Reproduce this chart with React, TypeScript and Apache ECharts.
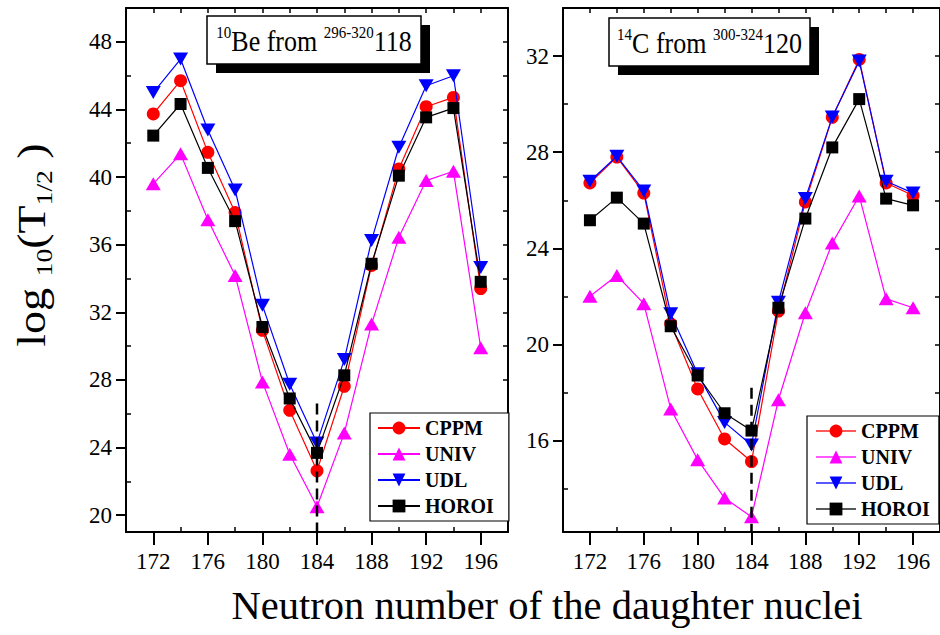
import React, { useEffect, useRef } from "react";
import * as echarts from "echarts";

// Neutron number of the daughter nucleus (x axis, both panels)
const neutronNumbers = [172, 174, 176, 178, 180, 182, 184, 186, 188, 190, 192, 194, 196];

// log10(T1/2) for 10Be emission from 296-320 118
const beCPPM = [43.73, 45.7, 41.46, 37.9, 30.93, 26.2, 22.62, 27.62, 34.77, 40.48, 44.16, 44.71, 33.4];
const beUNIV = [39.6, 41.37, 37.47, 34.18, 27.88, 23.6, 20.49, 24.85, 31.3, 36.44, 39.79, 40.34, 29.9];
const beUDL = [45.0, 46.98, 42.78, 39.24, 32.41, 27.74, 24.27, 29.2, 36.25, 41.76, 45.4, 45.99, 34.65];
const beHOROI = [42.45, 44.32, 40.54, 37.39, 31.13, 26.9, 23.68, 28.27, 34.87, 40.08, 43.53, 44.08, 33.8];

// log10(T1/2) for 14C emission from 300-324 120
const cCPPM = [26.72, 27.8, 26.3, 20.86, 18.15, 16.07, 15.13, 21.39, 25.93, 29.45, 31.86, 26.72, 26.2];
const cUNIV = [22.01, 22.87, 21.7, 17.32, 15.21, 13.61, 12.83, 17.7, 21.32, 24.22, 26.18, 21.9, 21.53];
const cUDL = [26.79, 27.83, 26.39, 21.28, 18.78, 16.76, 15.82, 21.76, 26.07, 29.47, 31.79, 26.79, 26.3];
const cHOROI = [25.17, 26.11, 25.03, 20.76, 18.71, 17.14, 16.42, 21.53, 25.24, 28.2, 30.21, 26.07, 25.79];

// N = 184 shell closure marker (top and bottom ends of the dashed line)
const beShellLine = [26.6, 19];
const cShellLine = [18.2, 12.2];

// Tick positions
const xMajor = [172, 176, 180, 184, 188, 192, 196];
const xMinor = [174, 178, 182, 186, 190, 194];
const xAll = [172, 174, 176, 178, 180, 182, 184, 186, 188, 190, 192, 194, 196];
const beYMajor = [20, 24, 28, 32, 36, 40, 44, 48];
const beYMinor = [22, 26, 30, 34, 38, 42, 46];
const beYAll = [20, 22, 24, 26, 28, 30, 32, 34, 36, 38, 40, 42, 44, 46, 48];
const cYMajor = [16, 20, 24, 28, 32];
const cYMinor = [14, 18, 22, 26, 30];
const cYAll = [14, 16, 18, 20, 22, 24, 26, 28, 30, 32];

const methodNames = ["CPPM", "UNIV", "UDL", "HOROI"];

const FONT = "Liberation Serif";
const BLACK = "#000";

const seriesStyles = [
  { color: "#ff0000", symbol: "circle", symbolSize: 13, symbolRotate: 0 },
  { color: "#ff00ff", symbol: "triangle", symbolSize: [15, 13], symbolRotate: 0 },
  { color: "#0000ff", symbol: "triangle", symbolSize: [15, 13], symbolRotate: 180 },
  { color: "#000000", symbol: "rect", symbolSize: 12, symbolRotate: 0 },
];

const pairs = (ys: number[]) => neutronNumbers.map((n, i) => [n, ys[i]]);

function xAxesFor(grid: number) {
  const base = { type: "value", gridIndex: grid, min: 170, max: 198, splitLine: { show: false } };
  return [
    {
      ...base,
      position: "bottom",
      axisLine: { onZero: false, lineStyle: { color: BLACK, width: 2 } },
      axisTick: { inside: false, length: 13, customValues: xMajor, lineStyle: { color: BLACK, width: 2 } },
      axisLabel: { customValues: xMajor, fontFamily: FONT, fontSize: 23, color: BLACK, margin: 18 },
    },
    {
      ...base,
      position: "bottom",
      axisLine: { show: false, onZero: false },
      axisTick: { inside: true, length: 5, customValues: xMinor, lineStyle: { color: BLACK, width: 1.5 } },
      axisLabel: { show: false },
    },
    {
      ...base,
      position: "top",
      axisLine: { onZero: false, lineStyle: { color: BLACK, width: 2 } },
      axisTick: { inside: true, length: 5, customValues: xAll, lineStyle: { color: BLACK, width: 1.5 } },
      axisLabel: { show: false },
    },
  ];
}

function yAxesFor(grid: number, min: number, max: number, major: number[], minor: number[], all: number[]) {
  const base = { type: "value", gridIndex: grid, min, max, splitLine: { show: false } };
  return [
    {
      ...base,
      position: "left",
      axisLine: { onZero: false, lineStyle: { color: BLACK, width: 2 } },
      axisTick: { inside: false, length: 10, customValues: major, lineStyle: { color: BLACK, width: 2 } },
      axisLabel: { customValues: major, fontFamily: FONT, fontSize: 23, color: BLACK, margin: 14 },
    },
    {
      ...base,
      position: "left",
      axisLine: { show: false, onZero: false },
      axisTick: { inside: true, length: 5, customValues: minor, lineStyle: { color: BLACK, width: 1.5 } },
      axisLabel: { show: false },
    },
    {
      ...base,
      position: "right",
      axisLine: { onZero: false, lineStyle: { color: BLACK, width: 2 } },
      axisTick: { inside: true, length: 5, customValues: all, lineStyle: { color: BLACK, width: 1.5 } },
      axisLabel: { show: false },
    },
  ];
}

function methodSeries(axisBase: number, values: number[][]) {
  return values.map((ys, k) => ({
    type: "line",
    name: methodNames[k],
    xAxisIndex: axisBase,
    yAxisIndex: axisBase,
    data: pairs(ys),
    symbol: seriesStyles[k].symbol,
    symbolSize: seriesStyles[k].symbolSize,
    symbolRotate: seriesStyles[k].symbolRotate,
    showAllSymbol: true,
    lineStyle: { color: seriesStyles[k].color, width: 1.2 },
    itemStyle: { color: seriesStyles[k].color },
    z: 2 + k,
  }));
}

function shellSeries(axisBase: number, ends: number[]) {
  return {
    type: "line",
    name: "N184",
    xAxisIndex: axisBase,
    yAxisIndex: axisBase,
    data: ends.map((v) => [184, v]),
    symbol: "none",
    silent: true,
    lineStyle: { color: BLACK, width: 2.5, type: [11, 6] },
    z: 10,
  };
}

function legendFor(left: number, top: number, padding: number[], itemWidth: number, lineOpacity: number) {
  return {
    data: methodNames,
    orient: "vertical",
    left,
    top,
    padding,
    itemWidth,
    itemHeight: 16,
    itemGap: 6,
    selectedMode: false,
    borderColor: BLACK,
    borderWidth: 1.2,
    borderRadius: 0,
    backgroundColor: "#fff",
    lineStyle: { opacity: lineOpacity },
    textStyle: { fontFamily: FONT, fontWeight: "bold", fontSize: 20, lineHeight: 20, color: BLACK },
  };
}

function titleBox(x: number, y: number, w: number, h: number, text: string) {
  return {
    type: "group",
    children: [
      { type: "rect", shape: { x: x + 9, y: y + 9, width: w, height: h }, style: { fill: BLACK } },
      { type: "rect", shape: { x, y, width: w, height: h }, style: { fill: "#fff", stroke: BLACK, lineWidth: 1.5 } },
      {
        type: "text",
        x: x + w / 2,
        y: y + h / 2 + 1,
        scaleY: 1.15,
        style: {
          text,
          align: "center",
          verticalAlign: "middle",
          rich: {
            m: { fontFamily: FONT, fontSize: 26, lineHeight: 30, fill: BLACK },
            s: { fontFamily: FONT, fontSize: 15, lineHeight: 15, verticalAlign: "top", fill: BLACK },
          },
        },
      },
    ],
  };
}

const option = {
  animation: false,
  backgroundColor: "#fff",
  grid: [
    { left: 126, top: 8, width: 382, height: 524 },
    { left: 563, top: 8, width: 383, height: 524 },
  ],
  xAxis: [...xAxesFor(0), ...xAxesFor(1)],
  yAxis: [
    ...yAxesFor(0, 19, 50, beYMajor, beYMinor, beYAll),
    ...yAxesFor(1, 12.2, 34, cYMajor, cYMinor, cYAll),
  ],
  legend: [
    legendFor(370, 413, [5, 15, 5, 7], 42, 1),
    legendFor(807, 416, [5, 9, 5, 8], 40, 0.65),
  ],
  series: [
    ...methodSeries(0, [beCPPM, beUNIV, beUDL, beHOROI]),
    shellSeries(0, beShellLine),
    ...methodSeries(3, [cCPPM, cUNIV, cUDL, cHOROI]),
    shellSeries(3, cShellLine),
  ],
  graphic: [
    titleBox(207, 16, 214, 48, "{s|10}{m|Be from }{s|296-320}{m|118}"),
    titleBox(609, 18, 201, 48, "{s|14}{m|C from }{s|300-324}{m|120}"),
    {
      type: "text",
      x: 32,
      y: 245,
      rotation: Math.PI / 2,
      scaleX: 1.15,
      style: {
        text: "{m|log }{s|10}{m|(T}{s|1/2}{m| )}",
        align: "center",
        verticalAlign: "middle",
        rich: {
          m: { fontFamily: FONT, fontSize: 40, lineHeight: 48, fill: BLACK },
          s: { fontFamily: FONT, fontSize: 24, lineHeight: 24, verticalAlign: "bottom", fill: BLACK },
        },
      },
    },
    {
      type: "text",
      x: 547,
      y: 605,
      style: {
        text: "Neutron number of the daughter nuclei",
        fontFamily: FONT,
        fontSize: 40.5,
        fill: BLACK,
        align: "center",
        verticalAlign: "middle",
      },
    },
  ],
};

export default function App() {
  const ref = useRef<HTMLDivElement>(null);
  useEffect(() => {
    const chart = echarts.init(ref.current as HTMLDivElement, null, { renderer: "svg" });
    chart.setOption(option as any);
    return () => chart.dispose();
  }, []);
  return (
    <div
      ref={ref}
      style={{ position: "fixed", left: 0, top: 0, width: 940, height: 635, background: "#fff" }}
    />
  );
}
